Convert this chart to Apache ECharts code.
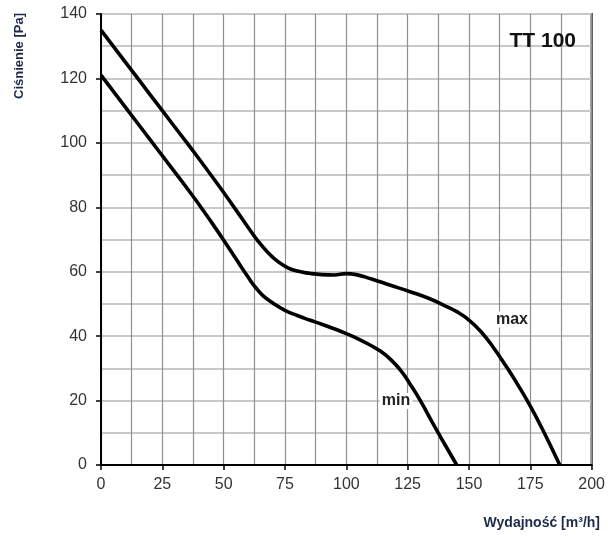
<!DOCTYPE html>
<html>
<head>
<meta charset="utf-8">
<script src="https://cdn.jsdelivr.net/npm/echarts@6/dist/echarts.min.js"></script>
<style>html,body{margin:0;padding:0;background:#fff}#c{width:608px;height:537px}</style>
</head>
<body>
<div id="c"></div>
<script>
var maxCurve = [[0,135],[10,125],[20,115],[30,105],[40,95],[50,84.6],[55,79.2],[60,73.7],[64,69.5],[68,66],[72,63.2],[76,61.3],[80,60.2],[85,59.5],[90,59.1],[95,59],[100,59.4],[104,59.1],[110,57.8],[118,55.8],[126,53.8],[134,51.6],[140,49.5],[145,47.6],[150,45],[155,41.3],[160,36.4],[165,30.8],[170,24.8],[175,18.3],[180,11],[187,0]];
var minCurve = [[0,121],[10,111],[20,101],[28,93],[35,86],[40,80.8],[45,75.4],[50,69.8],[55,64],[60,58.3],[63,55.1],[66,52.6],[70,50.3],[75,48],[80,46.4],[85,45],[90,43.7],[95,42.3],[100,40.8],[105,39.1],[110,37.1],[114,35.3],[118,32.8],[122,29.5],[126,25.1],[130,20.2],[135,13.3],[140,6.6],[145,0]];
var xTicks = [0,25,50,75,100,125,150,175,200];
var yTicks = [0,20,40,60,80,100,120,140];
var labels = {title:'TT 100', yName:'Ciśnienie [Pa]', xName:'Wydajność [m³/h]', max:'max', min:'min'};
var chart = echarts.init(document.getElementById('c'));
var vLine = {show:true, lineStyle:{color:'#909090', width:1.2}};
var hLine = {show:true, lineStyle:{color:'#c8c8c8', width:1.8}};
var lblFont = {color:'#333', fontSize:16, fontFamily:'Liberation Sans, Arial'};
chart.setOption({
  animation:false,
  grid:{left:101, right:16, top:14, bottom:72, show:true, borderColor:'#000', borderWidth:2, backgroundColor:'transparent'},
  xAxis:{type:'value', min:xTicks[0], max:xTicks[xTicks.length-1], interval:25,
    axisLine:{show:true, onZero:false, lineStyle:{color:'#000', width:2}},
    axisTick:{show:true, length:5, lineStyle:{color:'#000', width:1.5}},
    axisLabel:Object.assign({margin:12}, lblFont),
    splitLine:vLine, minorTick:{show:false, splitNumber:2}, minorSplitLine:vLine},
  yAxis:{type:'value', min:yTicks[0], max:yTicks[yTicks.length-1], interval:20,
    axisLine:{show:true, onZero:false, lineStyle:{color:'#000', width:2}},
    axisTick:{show:true, length:5, lineStyle:{color:'#000', width:1.5}},
    axisLabel:Object.assign({margin:14}, lblFont),
    splitLine:hLine, minorTick:{show:false, splitNumber:2}, minorSplitLine:hLine},
  series:[
    {type:'line', data:maxCurve, smooth:0.5, showSymbol:false, lineStyle:{color:'#000', width:3.6}, z:5},
    {type:'line', data:minCurve, smooth:0.5, showSymbol:false, lineStyle:{color:'#000', width:3.6}, z:5}
  ],
  graphic:[
    {type:'text', x:576, y:41, z:10, style:{text:labels.title, font:'bold 21px Liberation Sans, Arial', fill:'#111', align:'right', verticalAlign:'middle'}},
    {type:'text', x:512, y:319.5, z:10, style:{text:labels.max, font:'bold 16px Liberation Sans, Arial', fill:'#222', align:'center', verticalAlign:'middle', backgroundColor:'#fff', padding:[0,1]}},
    {type:'text', x:396, y:401, z:10, style:{text:labels.min, font:'bold 16px Liberation Sans, Arial', fill:'#222', align:'center', verticalAlign:'middle', backgroundColor:'#fff', padding:[0,2]}},
    {type:'text', x:19, y:56, rotation:Math.PI/2, z:10, style:{text:labels.yName, font:'bold 13px Liberation Sans, Arial', fill:'#1c2a4a', align:'center', verticalAlign:'middle'}},
    {type:'text', x:600, y:523, z:10, style:{text:labels.xName, font:'bold 14px Liberation Sans, Arial', fill:'#1c2a4a', align:'right', verticalAlign:'middle'}}
  ]
});
</script>
</body>
</html>
